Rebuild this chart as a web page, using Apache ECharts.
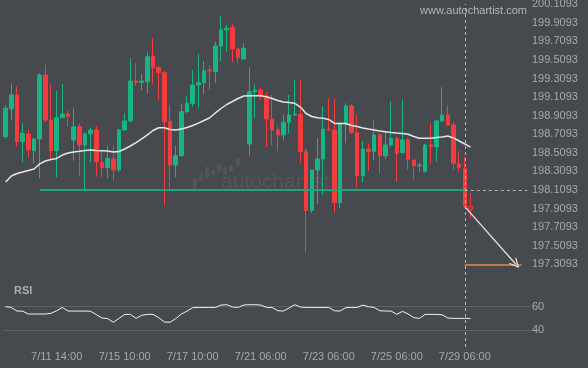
<!DOCTYPE html>
<html><head><meta charset="utf-8">
<script src="https://cdn.jsdelivr.net/npm/echarts@6/dist/echarts.min.js"></script>
<style>html,body{margin:0;padding:0;background:#46494e}#c{width:588px;height:368px}</style>
</head><body><div id="c"></div>
<script>
// ---- data ----
const opens  = [198.684,198.982,199.133,198.630,198.713,198.533,198.659,199.348,198.863,198.533,
                198.888,198.928,198.648,198.791,198.594,198.713,198.756,198.408,198.350,198.443,
                198.325,198.756,198.853,199.283,199.269,199.276,199.553,199.427,199.373,198.845,
                198.379,198.479,198.953,199.043,199.240,199.265,199.402,199.384,199.660,199.833,
                199.857,199.628,199.520,198.605,199.168,199.186,199.122,198.874,198.756,198.702,
                198.839,198.917,198.925,198.522,197.887,198.325,198.443,198.766,198.756,197.973,
                198.817,199.014,198.727,198.264,198.551,198.522,198.702,198.479,198.594,198.666,
                198.511,198.648,198.433,198.371,198.307,198.594,198.576,198.853,198.917,198.810,
                198.390,198.343,197.930];
const closes = [198.989,199.133,198.630,198.720,198.540,198.659,199.348,198.863,198.533,198.888,
                198.928,198.899,198.791,198.594,198.713,198.756,198.414,198.350,198.451,198.325,
                198.756,198.853,199.283,199.265,199.283,199.545,199.427,199.373,198.845,198.379,
                198.479,198.953,199.043,199.240,199.265,199.394,199.391,199.660,199.833,199.851,
                199.628,199.534,199.636,199.168,199.186,199.122,198.874,198.756,198.702,198.839,
                198.917,198.928,198.522,197.887,198.325,198.443,198.766,198.756,197.973,198.817,
                199.014,198.727,198.264,198.551,198.522,198.702,198.479,198.594,198.666,198.505,
                198.648,198.440,198.371,198.379,198.594,198.576,198.853,198.917,198.810,198.397,
                198.350,197.930,197.902];
const lows   = [198.659,198.863,198.576,198.408,198.462,198.397,198.236,198.842,198.433,198.246,
                198.885,198.791,198.425,198.264,198.110,198.408,198.253,198.253,198.236,198.210,
                198.303,198.745,198.842,199.230,199.179,199.151,199.248,199.079,197.948,198.128,
                198.246,198.465,198.939,199.007,198.989,199.140,199.186,199.259,199.499,199.599,
                199.485,199.474,199.510,198.479,198.882,199.079,198.569,198.594,198.530,198.640,
                198.720,198.906,198.397,197.439,197.862,197.959,198.056,198.745,197.869,197.912,
                198.612,198.713,198.139,198.192,198.317,198.425,198.289,198.443,198.576,198.199,
                198.503,198.325,198.217,198.307,198.298,198.397,198.414,198.842,198.799,198.325,
                198.307,197.926,197.805];
const highs  = [199.025,199.259,199.222,198.828,198.756,198.670,199.366,199.456,199.248,199.176,
                199.251,198.960,198.996,198.828,198.727,198.785,198.799,198.540,198.587,198.587,
                198.766,198.936,199.528,199.474,199.359,199.599,199.743,199.445,199.391,199.025,
                198.587,199.043,199.122,199.402,199.574,199.499,199.456,199.707,199.987,199.886,
                199.897,199.639,199.689,199.431,199.248,199.216,199.165,199.133,198.791,198.925,
                199.133,199.294,199.302,198.559,198.325,198.673,199.007,199.097,199.097,198.845,
                199.043,199.036,198.917,198.637,198.612,198.856,198.723,198.737,199.063,198.680,
                199.086,198.670,198.433,198.408,198.605,198.828,198.863,199.216,199.025,198.845,
                198.522,198.468,198.074];
const maValues = [198.196,198.260,198.287,198.303,198.320,198.336,198.390,198.422,198.438,198.449,
                198.486,198.508,198.519,198.526,198.535,198.540,198.535,198.533,198.530,198.519,
                198.524,198.551,198.583,198.619,198.659,198.702,198.750,198.780,198.779,198.761,
                198.756,198.766,198.783,198.804,198.829,198.858,198.887,198.939,198.987,199.030,
                199.062,199.095,199.122,199.125,199.125,199.125,199.114,199.095,199.073,199.057,
                199.052,199.043,199.003,198.933,198.901,198.888,198.882,198.869,198.826,198.826,
                198.826,198.804,198.793,198.777,198.766,198.756,198.745,198.737,198.729,198.723,
                198.718,198.709,198.686,198.667,198.666,198.666,198.675,198.680,198.691,198.670,
                198.637,198.605,198.570];
const rsiValues = [60.0,59.4,56.3,56.2,53.8,53.8,53.8,53.8,54.4,56.6,
                59.4,56.3,56.3,56.3,56.3,56.1,53.2,50.4,49.9,46.8,
                50.1,53.5,53.5,50.1,52.7,53.5,53.5,50.7,47.0,46.8,
                49.9,53.8,56.3,59.2,59.4,59.4,59.4,59.4,61.4,61.7,
                59.7,59.4,61.4,61.7,61.7,61.4,59.4,59.4,56.6,56.3,
                58.9,61.7,59.7,59.4,59.4,59.4,59.4,59.4,56.6,56.3,
                59.2,59.4,59.4,61.4,60.0,59.4,56.6,56.3,56.3,53.5,
                56.1,53.8,50.7,50.1,53.5,53.5,53.5,53.2,50.4,50.1,
                50.1,50.1,50.1];
const slotCount = 93;              // candles + empty projection slots
const xTickIndex  = [9,21,33,45,57,69,81];
const xTickLabels = ['7/11 14:00','7/15 10:00','7/17 10:00','7/21 06:00','7/23 06:00','7/25 06:00','7/29 06:00'];
const yTickLabels = ['197.3093','197.5093','197.7093','197.9093','198.1093','198.3093','198.5093',
                     '198.7093','198.9093','199.1093','199.3093','199.5093','199.7093','199.9093','200.1093'];
const rsiTickLabels = ['40','60'];
const supportLevel = 198.1093;
const targetLevel  = 197.3093;
const patternStart = 6, patternEnd = 81, arrowEnd = 90, targetEnd = 91;

// ---- styling ----
const BG = '#46494e', UP = '#17b583', DOWN = '#f53b3b', TXT = '#a6a9ae';
const FONT = 'Liberation Sans, Arial, sans-serif';

const cats = Array.from({length: slotCount}, (_, i) => String(i));
const candleData = opens.map((o, i) => {
  const v = [o, closes[i], lows[i], highs[i]];
  return i === opens.length - 1 ? {value: v, itemStyle: {color0: BG}} : v;
});
const yLabel = v => {
  let best = yTickLabels[0], d = Infinity;
  for (const s of yTickLabels) { const dd = Math.abs(parseFloat(s) - v); if (dd < d) { d = dd; best = s; } }
  return best;
};
const hiddenX = gi => ({type: 'category', gridIndex: gi, data: cats, boundaryGap: true,
  axisLine: {show: false}, axisTick: {show: false}, axisLabel: {show: false}, splitLine: {show: false}});
const gridBase = {left: 2.83, right: 58, outerBoundsMode: 'none', containLabel: false};

const arrowPath = 'path://M0,10 L5,0 L10,10 L8.6,10 L5,2.8 L1.4,10 Z';

const option = {
  backgroundColor: BG,
  animation: false,
  grid: [
    Object.assign({top: 4.3, height: 260}, gridBase),
    Object.assign({top: 306.7, height: 23.6}, gridBase),
    Object.assign({top: 4, bottom: 21}, gridBase)
  ],
  xAxis: [
    hiddenX(0),
    hiddenX(1),
    Object.assign(hiddenX(2), {axisLabel: {show: true, margin: 4, color: TXT, fontSize: 11, fontFamily: FONT,
      interval: (i) => xTickIndex.includes(i),
      formatter: (v, i) => { const j = xTickIndex.indexOf(i); return j >= 0 ? xTickLabels[j] : ''; }}})
  ],
  yAxis: [
    {type: 'value', gridIndex: 0, position: 'right', min: parseFloat(yTickLabels[0]), max: 200.109, interval: 0.2,
      axisLine: {show: false}, axisTick: {show: false}, splitLine: {show: false},
      axisLabel: {margin: 2, color: TXT, fontSize: 11, fontFamily: FONT, formatter: yLabel}},
    {type: 'value', gridIndex: 1, position: 'right', min: +rsiTickLabels[0], max: +rsiTickLabels[1], interval: 20,
      axisLine: {show: false}, axisTick: {show: false},
      splitLine: {show: true, lineStyle: {color: '#5d6065', width: 1}},
      axisLabel: {margin: 2, color: TXT, fontSize: 11, fontFamily: FONT}},
    {type: 'value', gridIndex: 2, min: 0, max: 1, show: false}
  ],
  graphic: [
    {type: 'text', left: 420, top: 5, z: 1, style: {text: 'www.autochartist.com', fill: '#b3b6bb', font: '11px ' + FONT}},
    {type: 'text', left: 14, top: 285, z: 1, style: {text: 'RSI', fill: '#a9acb1', font: 'bold 11px ' + FONT}},
    {type: 'text', left: 221, top: 172, z: 0, style: {text: 'autochartist', fill: 'rgba(255,255,255,0.07)', font: '21px ' + FONT}},
    {type: 'group', z: 0, children: [
      [192.7,178,4,12],[199,172.7,4,9],[205,166.7,4,11.6],[211,170,4,5],
      [217,164,4.5,7.7],[223,166.7,4,8.3],[229,165,4,6.7],[235.7,158.3,4,8.4]
    ].map(r => ({type: 'rect', shape: {x: r[0], y: r[1], width: r[2], height: r[3], r: 1.5},
                 style: {fill: 'rgba(255,255,255,0.07)'}}))}
  ],
  series: [
    {type: 'candlestick', xAxisIndex: 0, yAxisIndex: 0, data: candleData, barWidth: 4,
      itemStyle: {color: UP, color0: DOWN, borderColor: UP, borderColor0: DOWN, borderWidth: 1},
      markLine: {silent: true, symbol: ['none', 'none'], label: {show: false}, animation: false,
        data: [
          [{coord: [patternStart, supportLevel], lineStyle: {color: '#1fa57b', width: 2.2, type: 'solid'}},
           {coord: [patternEnd, supportLevel]}],
          [{coord: [patternEnd, supportLevel], lineStyle: {color: '#b4b4b4', width: 1, type: [3, 3]}},
           {coord: [slotCount - 1, supportLevel]}],
          [{coord: [patternEnd, targetLevel], lineStyle: {color: '#ea8a48', width: 1.5, type: 'solid'}},
           {coord: [targetEnd, targetLevel]}],
          [{coord: [patternEnd, closes[patternEnd]], symbol: 'none', lineStyle: {color: '#e2e2e2', width: 1.3, type: 'solid'}},
           {coord: [arrowEnd, targetLevel], symbol: arrowPath, symbolSize: [10, 10]}]
        ]}},
    {type: 'line', xAxisIndex: 0, yAxisIndex: 0, data: maValues, showSymbol: false, symbol: 'none',
      lineStyle: {color: '#e6e6e6', width: 1.5}, z: 3},
    {type: 'line', xAxisIndex: 1, yAxisIndex: 1, data: rsiValues, showSymbol: false, symbol: 'none', clip: false,
      lineStyle: {color: '#f2f2f2', width: 1}},
    {type: 'line', xAxisIndex: 2, yAxisIndex: 2, data: [], silent: true,
      markLine: {silent: true, symbol: ['none', 'none'], label: {show: false}, animation: false,
        lineStyle: {color: '#b8b8b8', width: 1, type: [3, 3]},
        data: [{xAxis: patternEnd}]}}
  ]
};
const chart = echarts.init(document.getElementById('c'), null, {renderer: 'canvas'});
chart.setOption(option);
</script></body></html>
